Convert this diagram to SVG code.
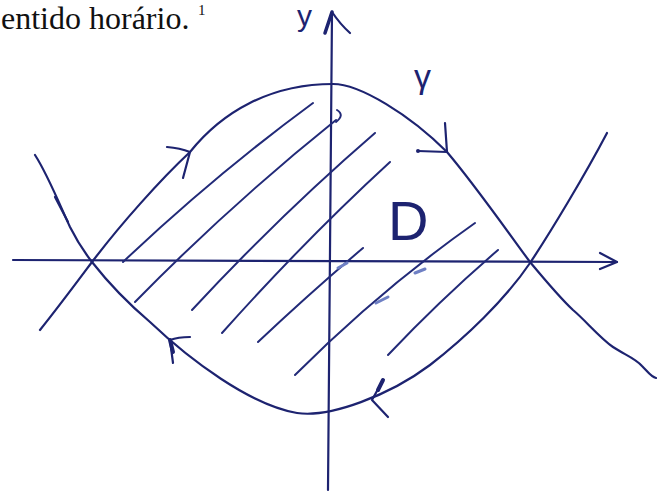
<svg xmlns="http://www.w3.org/2000/svg" width="658" height="494" viewBox="0 0 658 494">
<style>
.ink{fill:none;stroke:#1d2370;stroke-width:2.2;stroke-linecap:round;stroke-linejoin:round}
.hatch{fill:none;stroke:#222a78;stroke-width:2;stroke-linecap:round}
.smudge{fill:none;stroke:#6f80c4;stroke-width:3;stroke-linecap:round}
.hand{fill:#1d2370;font-family:"Liberation Sans","DejaVu Sans",sans-serif}
</style>
<rect width="658" height="494" fill="#ffffff"/>
<g id="header">
<text x="1" y="29" font-family="Liberation Serif, serif" font-size="32" fill="#111">entido horário.</text>
<text x="198" y="15" font-family="Liberation Serif, serif" font-size="15" fill="#111">1</text>
</g>
<g id="axes">
<path class="ink" d="M13,260 L617,262"/>
<path class="ink" d="M600,253 L617,262 L600,269"/>
<path class="ink" d="M332,12 L328,490"/>
<path class="ink" d="M325,33 L332,12 Q340,24 350,33"/>
<path d="M325,33 L332,12" stroke="#1d2370" stroke-width="3.5" stroke-linecap="round"/>
</g>
<g id="hatching">
<path class="hatch" d="M123,262 Q215,175 313,103"/>
<path class="hatch" d="M135,302 Q230,205 336,120"/>
<path class="hatch" d="M337,110 Q345,115 336,122"/>
<path class="hatch" d="M192,310 Q280,215 375,133"/>
<path class="hatch" d="M222,333 Q305,240 390,162"/>
<path class="hatch" d="M258,342 Q310,293 363,248"/>
<path class="hatch" d="M295,375 Q380,290 475,223"/>
<path class="hatch" d="M388,355 Q440,300 498,250"/>
<path class="smudge" d="M338,268 L347,263"/>
<path class="smudge" d="M415,273 L425,269"/>
<path class="smudge" d="M376,303 L388,297"/>
</g>
<g id="curve-gamma">
<path class="ink" d="M40,330 C60,305 80,278 92,262 C120,225 160,180 190,152 C222,112 270,84 333,84 C360,84 410,115 447,152 C475,185 510,235 530,262 C545,280 560,298 573,310 C585,320 600,338 613,347 C625,355 635,358 642,366 C648,372 651,377 656,378"/>
<path class="ink" d="M35,155 C48,175 62,210 70,227 C78,243 85,253 92,262 C110,285 130,305 150,322 C190,360 250,405 297,413 C330,418 390,395 430,365 C465,338 505,300 530,263 C550,233 585,175 607,133"/>
<path class="ink" d="M55,197 L68,222" stroke-width="1.6"/>
</g>
<g id="orientation-arrows">
<path class="ink" d="M167,147 Q180,148 190,152 L183,178"/>
<path class="ink" d="M445,123 L447,152 L418,151"/>
<circle cx="418" cy="151" r="2" fill="#1d2370"/>
<path class="ink" d="M190,337 Q178,337 170,340 L173,363"/>
<path d="M170,340 L173,352" stroke="#1d2370" stroke-width="4" stroke-linecap="round"/>
<path class="ink" d="M383,380 L372,400 L388,417"/>
<path d="M383,380 L378,390" stroke="#1d2370" stroke-width="4" stroke-linecap="round"/>
</g>
<g id="labels">
<text class="hand" x="297" y="26" font-size="30">y</text>
<text class="hand" x="414" y="88" font-size="34">γ</text>
<text class="hand" x="388" y="240" font-size="56" font-weight="200" font-family="Inter, Liberation Sans, sans-serif">D</text>
</g>
</svg>
